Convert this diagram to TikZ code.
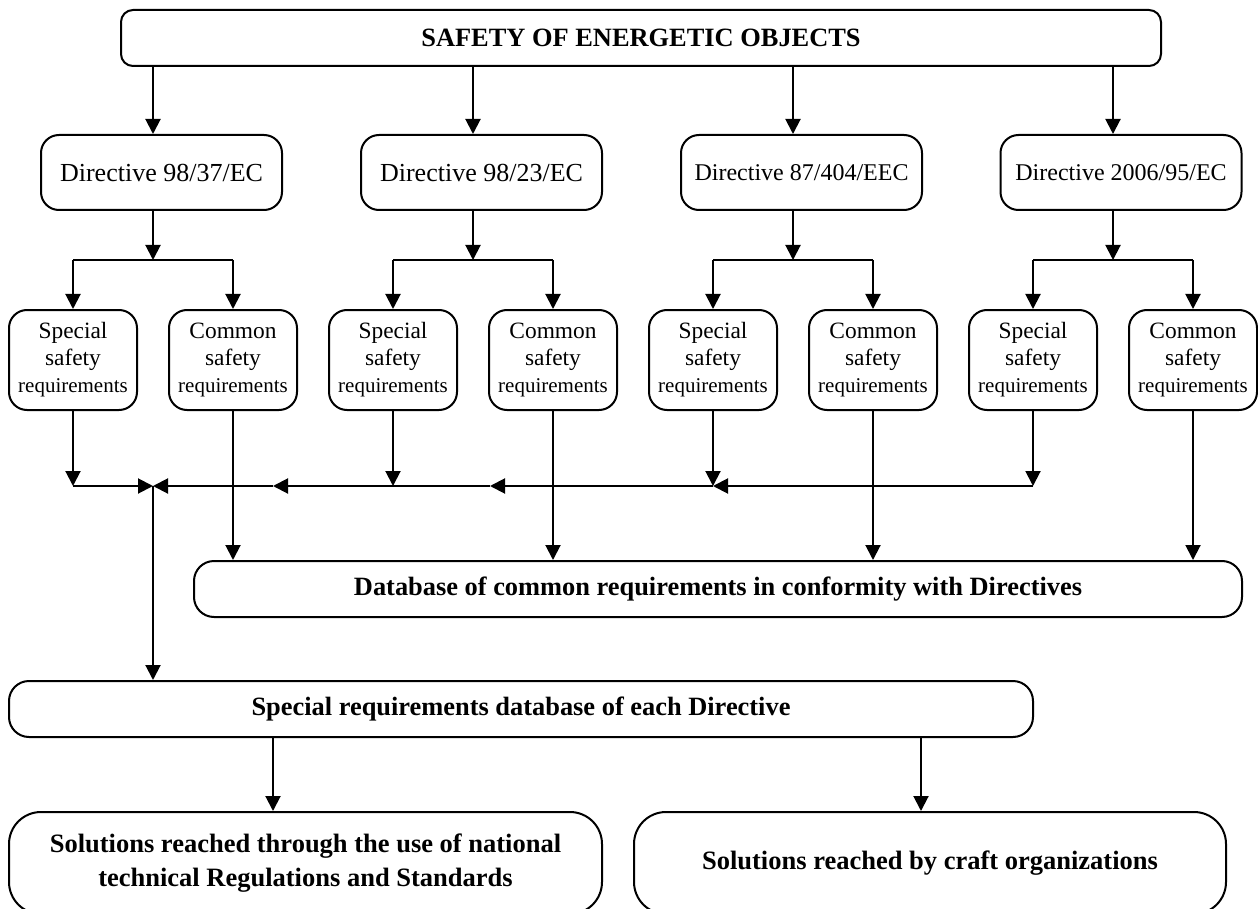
\documentclass[tikz,border=0pt]{standalone}
\usepackage{fontspec}
\setmainfont{Liberation Serif}
\usetikzlibrary{arrows.meta}
\newcommand\fbig{\fontsize{26.4}{31}\selectfont}
\newcommand\fdir{\fontsize{26}{31}\selectfont}
\newcommand\fdirs{\fontsize{24}{29}\selectfont}
\newcommand\fsaf{\fontsize{23.4}{27}\selectfont}
\newcommand\freq{\fontsize{21}{27}\selectfont}
\begin{document}
\begin{tikzpicture}[x=1pt,y=-1pt,
  box/.style={draw, line width=2pt, align=center, inner sep=0pt},
  arr/.style={-{Triangle[length=15pt,width=15pt]}, line width=2pt},
  ln/.style={line width=2pt},
  dirbox/.style={box, rounded corners=18pt, minimum width=241pt, minimum height=75pt},
  safbox/.style={box, rounded corners=18pt, minimum width=128pt, minimum height=100pt, font=\fsaf}]
\useasboundingbox (0,0) rectangle (1258,909);

% top
\node[box, rounded corners=12pt, minimum width=1040pt, minimum height=56pt, font=\fbig\bfseries] (top) at (641,38) {SAFETY OF ENERGETIC OBJECTS};

% directives
\node[dirbox, font=\fdir] (d1) at (161.5,172.5) {Directive 98/37/EC};
\node[dirbox, font=\fdir] (d2) at (481.5,172.5) {Directive 98/23/EC};
\node[dirbox, font=\fdirs] (d3) at (801.5,172.5) {Directive 87/404/EEC};
\node[dirbox, font=\fdirs] (d4) at (1121,172.5) {Directive 2006/95/EC};

% safety boxes
\node[safbox] (s1) at (73,360) {Special\\safety\\{\freq requirements}};
\node[safbox] (c1) at (233,360) {Common\\safety\\{\freq requirements}};
\node[safbox] (s2) at (393,360) {Special\\safety\\{\freq requirements}};
\node[safbox] (c2) at (553,360) {Common\\safety\\{\freq requirements}};
\node[safbox] (s3) at (713,360) {Special\\safety\\{\freq requirements}};
\node[safbox] (c3) at (873,360) {Common\\safety\\{\freq requirements}};
\node[safbox] (s4) at (1033,360) {Special\\safety\\{\freq requirements}};
\node[safbox] (c4) at (1193,360) {Common\\safety\\{\freq requirements}};

% databases
\node[box, rounded corners=20pt, minimum width=1048pt, minimum height=56pt, font=\fbig\bfseries] (db) at (718,589) {Database of common requirements in conformity with Directives};
\node[box, rounded corners=20pt, minimum width=1024pt, minimum height=56pt, font=\fbig\bfseries] (sdb) at (521,709) {Special requirements database of each Directive};

% solutions
\node[box, rounded corners=32pt, minimum width=593pt, minimum height=102pt, font=\fontsize{26.5}{34}\selectfont\bfseries] (bl) at (305.5,863) {Solutions reached through the use of national\\technical Regulations and Standards};
\node[box, rounded corners=32pt, minimum width=592pt, minimum height=102pt, font=\fontsize{26.5}{34}\selectfont\bfseries] (br) at (930,863) {Solutions reached by craft organizations};

% junction coordinates
\coordinate (j1) at (153,260);
\coordinate (j2) at (473,260);
\coordinate (j3) at (793,260);
\coordinate (j4) at (1113,260);

\foreach \i/\s/\c in {1/s1/c1, 2/s2/c2, 3/s3/c3, 4/s4/c4}{
  \draw[arr] (top.south -| j\i) -- (d\i.north -| j\i);
  \draw[arr] (d\i.south -| j\i) -- (j\i);
  \draw[ln] (\s.north |- j\i) -- (\c.north |- j\i);
  \draw[arr] (\s.north |- j\i) -- (\s.north);
  \draw[arr] (\c.north |- j\i) -- (\c.north);
  \draw[arr] (\s.south) -- (\s.south |- 0,486);
  \draw[arr] (\c.south) -- (\c.south |- db.north);
}

% collector line
\coordinate (J) at (153,486);
\coordinate (m1) at (273,486);
\coordinate (m2) at (490,486);
\draw[arr] (s1.south |- J) -- (J);
\draw[arr] (m1) -- (J);
\draw[arr] (m2) -- (m1);
\draw[arr] (s3.south |- J) -- (m2);
\draw[arr] (s4.south |- J) -- (s3.south |- J);
\draw[arr] (J) -- (J |- sdb.north);

% to solutions
\coordinate (k1) at (273,737);
\coordinate (k2) at (921,737);
\draw[arr] (sdb.south -| k1) -- (bl.north -| k1);
\draw[arr] (sdb.south -| k2) -- (br.north -| k2);
\end{tikzpicture}
\end{document}
